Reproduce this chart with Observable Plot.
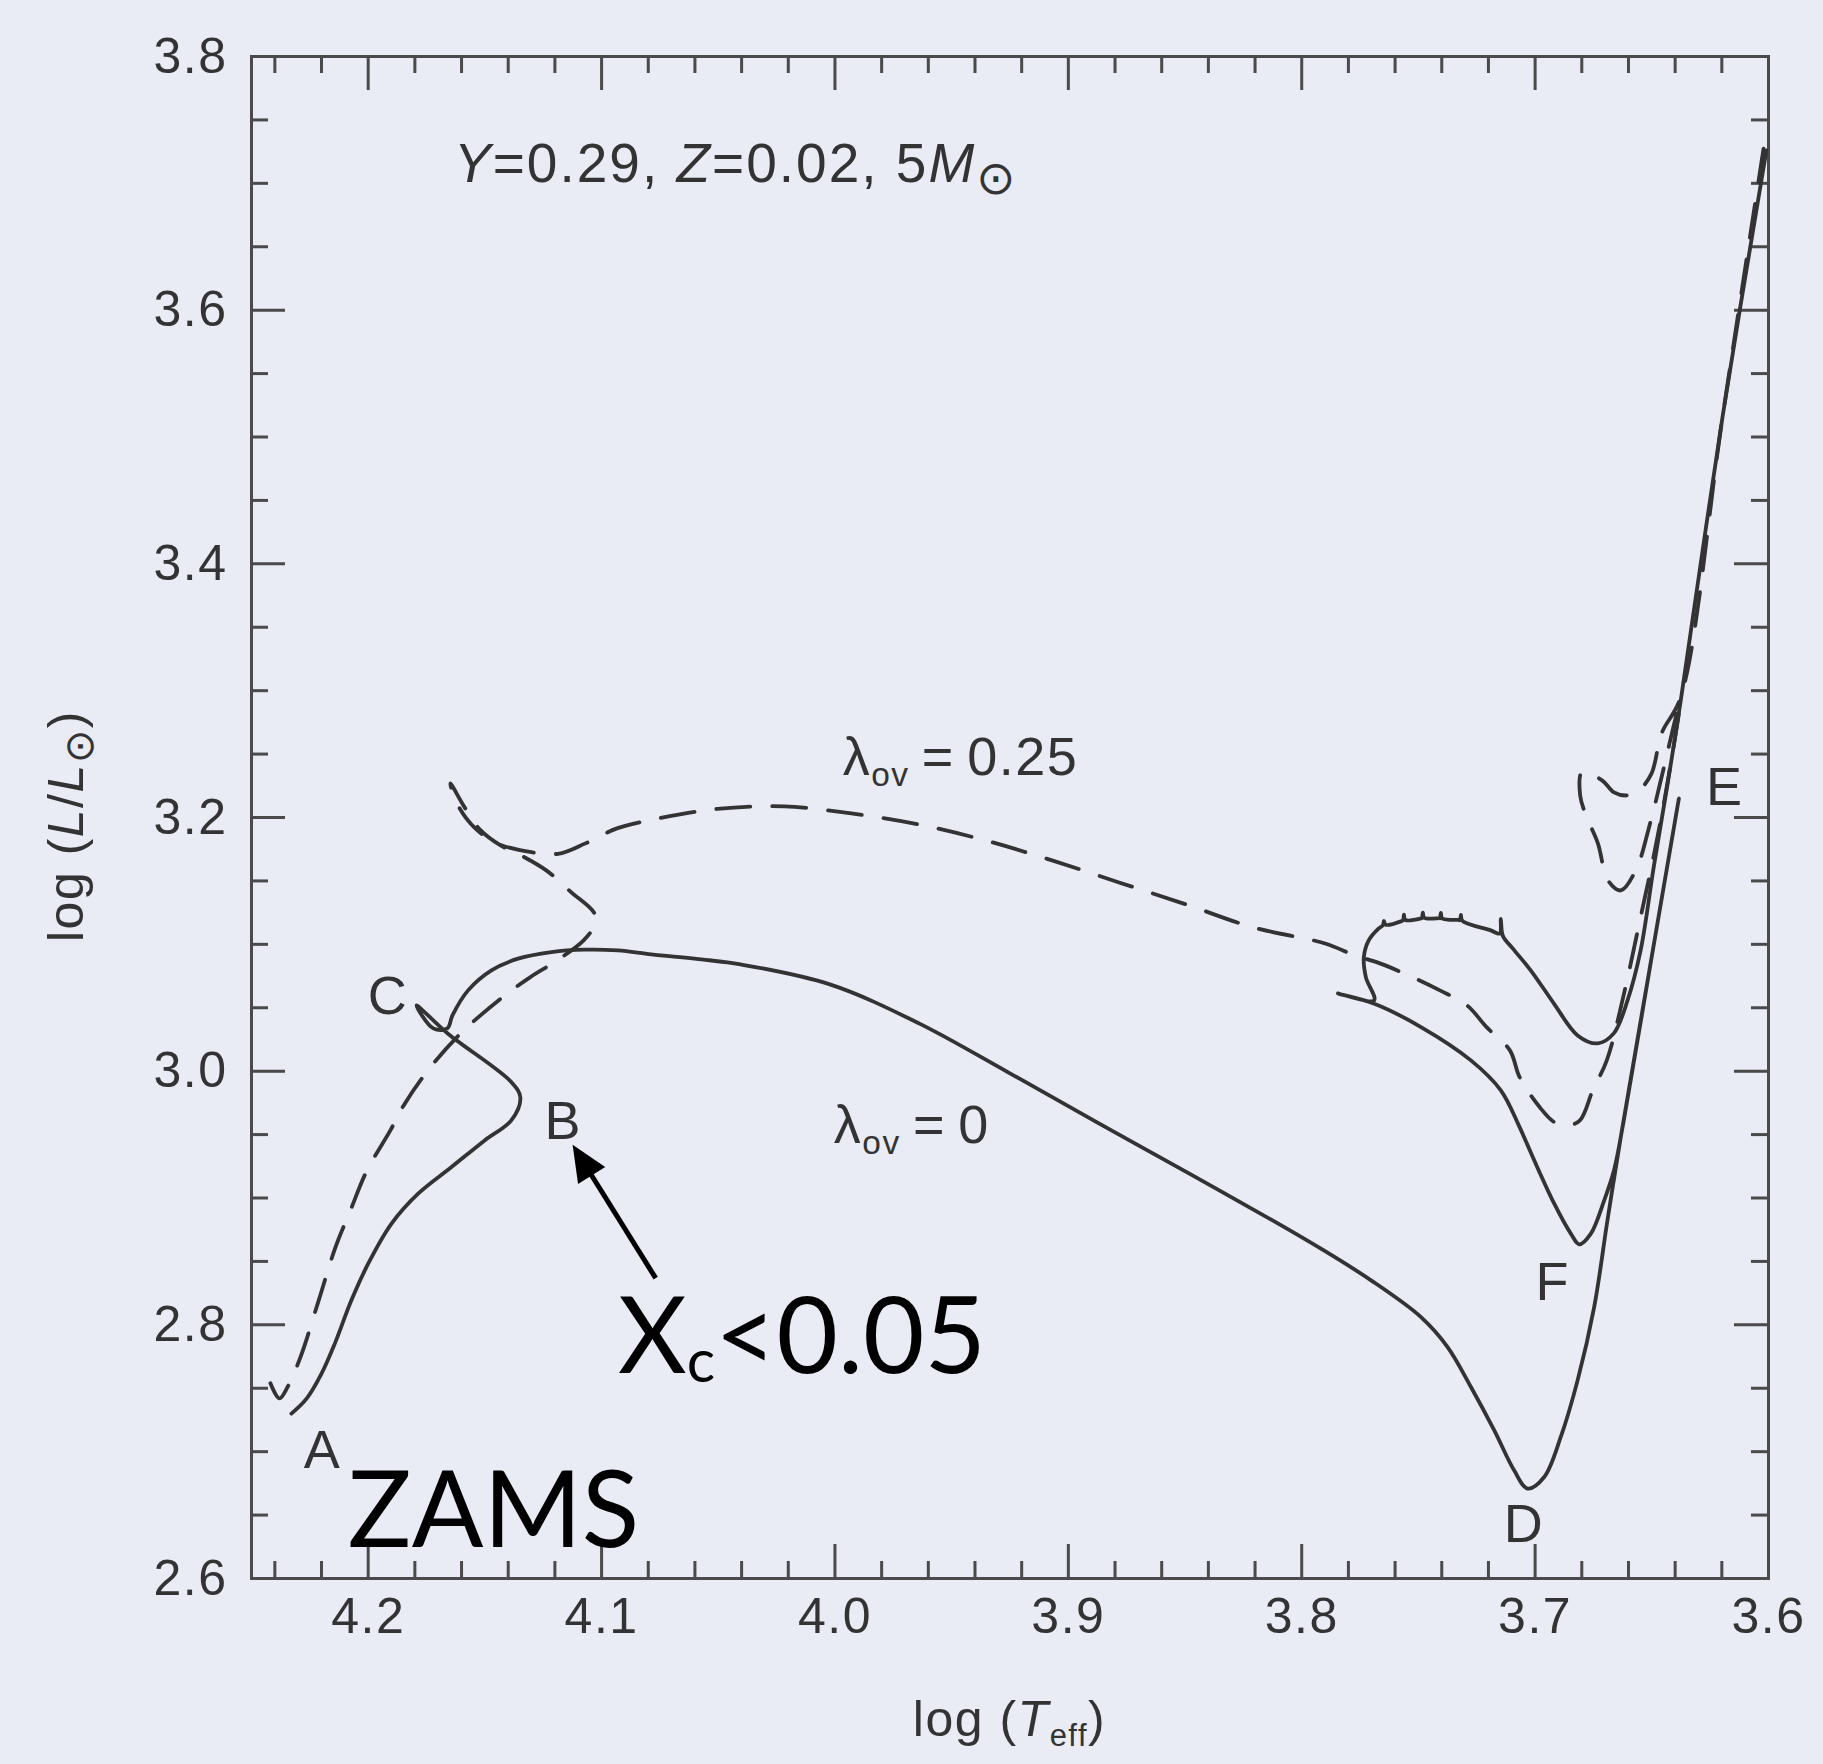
<!DOCTYPE html>
<html>
<head>
<meta charset="utf-8">
<script src="https://cdn.jsdelivr.net/npm/d3@7"></script>
<script src="https://cdn.jsdelivr.net/npm/@observablehq/plot@0.6"></script>
<style>
  html, body { margin: 0; padding: 0; background: #e9ebf5; }
  #chart svg { display: block; }
</style>
</head>
<body>
<div id="chart"></div>
<script>
// Evolutionary tracks of a 5 Msun star, [log Teff, log L/Lsun]
// Track without core overshooting (lambda_ov = 0): A -> B -> C -> D -> E -> F -> blue loop -> AGB
const trackNoOvershoot = [
  [4.2329, 2.7300], [4.2264, 2.7418], [4.2200, 2.7615], [4.2143, 2.7852],
  [4.2072, 2.8193], [4.2000, 2.8482], [4.1900, 2.8798], [4.1786, 2.9034],
  [4.1643, 2.9244], [4.1501, 2.9454], [4.1387, 2.9612], [4.1348, 2.9793],
  [4.1387, 2.9914], [4.1658, 3.0295], [4.1793, 3.0519], [4.1721, 3.0337],
  [4.1661, 3.0337], [4.1639, 3.0440], [4.1572, 3.0637], [4.1472, 3.0795],
  [4.1358, 3.0887], [4.1215, 3.0939], [4.1073, 3.0958], [4.0930, 3.0952],
  [4.0787, 3.0921], [4.0573, 3.0881], [4.0405, 3.0842], [4.0022, 3.0684],
  [3.9640, 3.0377], [3.9258, 2.9991], [3.8877, 2.9596], [3.8491, 2.9202],
  [3.8110, 2.8808], [3.7918, 2.8601], [3.7703, 2.8351], [3.7489, 2.8061],
  [3.7375, 2.7825], [3.7275, 2.7510], [3.7175, 2.7168], [3.7090, 2.6853],
  [3.7032, 2.6709], [3.6961, 2.6800], [3.6890, 2.7116], [3.6818, 2.7562],
  [3.6747, 2.8140], [3.6690, 2.8824], [3.6633, 2.9480], [3.6508, 3.0820],
  [3.6384, 3.2150], [3.6503, 3.0873], [3.6620, 2.9612], [3.6662, 2.9218],
  [3.6704, 2.8981], [3.6761, 2.8719], [3.6811, 2.8635], [3.6847, 2.8719],
  [3.6918, 2.8955], [3.7004, 2.9297], [3.7070, 2.9573], [3.7147, 2.9849],
  [3.7275, 3.0085], [3.7489, 3.0348], [3.7689, 3.0532], [3.7845, 3.0613],
  [3.7690, 3.0558], [3.7725, 3.0740], [3.7734, 3.0897], [3.7713, 3.1031],
  [3.7670, 3.1126], [3.7652, 3.1150], [3.7648, 3.1185], [3.7640, 3.1155],
  [3.7575, 3.1181], [3.7566, 3.1190], [3.7562, 3.1235], [3.7556, 3.1193],
  [3.7489, 3.1205], [3.7485, 3.1208], [3.7481, 3.1250], [3.7475, 3.1209],
  [3.7412, 3.1206], [3.7408, 3.1206], [3.7404, 3.1248], [3.7398, 3.1205],
  [3.7327, 3.1192], [3.7322, 3.1190], [3.7318, 3.1232], [3.7312, 3.1186],
  [3.7190, 3.1110], [3.7152, 3.1085], [3.7147, 3.1200], [3.7138, 3.1065],
  [3.7096, 3.0968], [3.7019, 3.0795], [3.6920, 3.0535], [3.6818, 3.0282],
  [3.6732, 3.0219], [3.6663, 3.0298], [3.6604, 3.0558], [3.6548, 3.0952],
  [3.6492, 3.1607], [3.6432, 3.2269], [3.6376, 3.2923], [3.6196, 3.5170],
  [3.6009, 3.7259]
];

// Track with core overshooting (lambda_ov = 0.25)
const trackOvershoot = [
  [4.2419, 2.7540], [4.2380, 2.7420], [4.2346, 2.7508], [4.2290, 2.7746],
  [4.2212, 2.8193], [4.2140, 2.8613], [4.2076, 2.8903], [4.2005, 2.9218],
  [4.1905, 2.9533], [4.1848, 2.9730], [4.1733, 3.0032], [4.1605, 3.0296],
  [4.1519, 3.0440], [4.1405, 3.0611], [4.1305, 3.0742], [4.1191, 3.0873],
  [4.1077, 3.1031], [4.1031, 3.1150], [4.1030, 3.1242], [4.1131, 3.1412],
  [4.1237, 3.1583], [4.1345, 3.1701], [4.1433, 3.1780], [4.1518, 3.1898],
  [4.1584, 3.2072], [4.1648, 3.2269], [4.1615, 3.2095], [4.1541, 3.1914],
  [4.1447, 3.1796], [4.1345, 3.1741], [4.1187, 3.1714], [4.1069, 3.1796],
  [4.0934, 3.1914], [4.0791, 3.1980], [4.0504, 3.2068], [4.0217, 3.2087],
  [3.9930, 3.2032], [3.9643, 3.1946], [3.9357, 3.1820], [3.9070, 3.1662],
  [3.8783, 3.1488], [3.8496, 3.1315], [3.8209, 3.1134], [3.7900, 3.1007],
  [3.7772, 3.0913], [3.7665, 3.0850], [3.7524, 3.0740], [3.7408, 3.0637],
  [3.7292, 3.0519], [3.7207, 3.0345], [3.7108, 3.0164], [3.7066, 2.9951],
  [3.6980, 2.9715], [3.6916, 2.9596], [3.6860, 2.9573], [3.6808, 2.9612],
  [3.6753, 2.9849], [3.6693, 3.0085], [3.6616, 3.0637], [3.6551, 3.1189],
  [3.6487, 3.1741], [3.6431, 3.2293], [3.6380, 3.2900], [3.6504, 3.1977],
  [3.6569, 3.1583], [3.6633, 3.1425], [3.6688, 3.1504], [3.6731, 3.1796],
  [3.6782, 3.2017], [3.6807, 3.2174], [3.6799, 3.2356], [3.6713, 3.2293],
  [3.6662, 3.2198], [3.6606, 3.2174], [3.6555, 3.2214], [3.6501, 3.2348],
  [3.6458, 3.2663], [3.6376, 3.2950], [3.6196, 3.5170], [3.6008, 3.7432]
];

// Axis ticks
const xMajorTicks = [4.2, 4.1, 4.0, 3.9, 3.8, 3.7, 3.6];
const xMinorTicks = [4.24, 4.22, 4.18, 4.16, 4.14, 4.12, 4.08, 4.06, 4.04, 4.02,
  3.98, 3.96, 3.94, 3.92, 3.88, 3.86, 3.84, 3.82, 3.78, 3.76, 3.74, 3.72,
  3.68, 3.66, 3.64, 3.62];
const yMajorTicks = [2.6, 2.8, 3.0, 3.2, 3.4, 3.6, 3.8];
const yMinorTicks = [2.65, 2.70, 2.75, 2.85, 2.90, 2.95, 3.05, 3.10, 3.15,
  3.25, 3.30, 3.35, 3.45, 3.50, 3.55, 3.65, 3.70, 3.75];

// Evolutionary phase letters
const phaseLetters = ["A", "B", "C", "D", "E", "F"];
const phaseLogT = [4.2196, 4.1164, 4.1915, 3.7048, 3.6187, 3.6924];
const phaseLogL = [2.7010, 2.9604, 3.0590, 2.6427, 3.2237, 2.8335];

// Arrow pointing at the end of core hydrogen burning (tail, tip)
const arrowTail = [4.0766, 2.8364];
const arrowTip = [4.1122, 2.9415];

// Text anchors (data coordinates, baseline / start)
const notes = {
  header: [4.163, 3.701],
  lambda25: [3.9965, 3.2332],
  lambda0: [4.0003, 2.9431],
  core: [4.0928, 2.7618],
  zams: [4.2085, 2.6246]
};

const W = 1823, H = 1764;
const margin = {top: 56, right: 55, bottom: 186, left: 251};
const innerW = W - margin.left - margin.right;
const innerH = H - margin.top - margin.bottom;
const ink = "#333333";
const axisInk = "#4a4a4a";
const sans = "'Liberation Sans', Arial, Helvetica, sans-serif";
const slideFont = "Lato, 'Open Sans', sans-serif";
const majorLen = 34, minorLen = 17;

const tickMarks = (values, len) => [
  Plot.tickX(values, {x: d => d, insetTop: innerH - len, stroke: axisInk, strokeWidth: 3}),
  Plot.tickX(values, {x: d => d, insetBottom: innerH - len, stroke: axisInk, strokeWidth: 3})
];
const tickMarksY = (values, len) => [
  Plot.tickY(values, {y: d => d, insetRight: innerW - len, stroke: axisInk, strokeWidth: 3}),
  Plot.tickY(values, {y: d => d, insetLeft: innerW - len, stroke: axisInk, strokeWidth: 3})
];

const plot = Plot.plot({
  width: W,
  height: H,
  marginTop: margin.top,
  marginRight: margin.right,
  marginBottom: margin.bottom,
  marginLeft: margin.left,
  x: {domain: [4.25, 3.6], axis: null},
  y: {domain: [2.6, 3.8], axis: null},
  style: {background: "transparent", fontFamily: sans, color: ink, overflow: "visible"},
  marks: [
    ...tickMarks(xMajorTicks, majorLen),
    ...tickMarks(xMinorTicks, minorLen),
    ...tickMarksY(yMajorTicks, majorLen),
    ...tickMarksY(yMinorTicks, minorLen),
    Plot.frame({stroke: axisInk, strokeWidth: 3}),
    Plot.line(trackNoOvershoot, {
      x: d => d[0], y: d => d[1], stroke: ink, strokeWidth: 3.8, curve: "catmull-rom"
    }),
    Plot.line(trackOvershoot, {
      x: d => d[0], y: d => d[1], stroke: ink, strokeWidth: 3.8, curve: "catmull-rom",
      strokeDasharray: "34,22"
    }),
    Plot.text(yMajorTicks, {
      y: d => d, frameAnchor: "left", dx: -24, textAnchor: "end",
      text: d => d.toFixed(1), fontSize: 50, fill: ink
    }),
    Plot.text(xMajorTicks, {
      x: d => d, frameAnchor: "bottom", dy: 54,
      text: d => d.toFixed(1), fontSize: 50, fill: ink
    }),
    Plot.text(phaseLetters, {
      x: (d, i) => phaseLogT[i], y: (d, i) => phaseLogL[i],
      text: d => d, fontSize: 54, fill: ink
    })
  ]
});

document.getElementById("chart").appendChild(plot);

// Labels with italics and subscripts, placed through the plot's scales
const sx = plot.scale("x"), sy = plot.scale("y");
const svg = d3.select(plot);
svg.selectAll("text").attr("letter-spacing", 1.5);

function richText({x, y, anchor = "start", size, family = sans, fill = ink, rotate = 0,
                   spacing = 1.5, subScale = 0.62, subShift = 0.2, parts}) {
  const t = svg.append("text")
    .attr("transform", `translate(${x},${y}) rotate(${rotate})`)
    .attr("text-anchor", anchor)
    .attr("font-size", size)
    .attr("font-family", family)
    .attr("fill", fill)
    .attr("letter-spacing", spacing);
  let shift = 0;
  for (const p of parts) {
    const s = t.append("tspan").text(p.t);
    if (p.i) s.attr("font-style", "italic");
    if (p.sub) s.attr("font-size", size * (p.scale ?? subScale));
    if (p.family) s.attr("font-family", p.family);
    const want = p.sub ? size * (p.shift ?? subShift) : 0;
    if (want !== shift) { s.attr("dy", want - shift); shift = want; }
  }
  return t;
}

const at = ([lx, ll]) => [sx.apply(lx), sy.apply(ll)];
const sun = "'DejaVu Sans', sans-serif";

let [hx, hy] = at(notes.header);
richText({x: hx, y: hy, size: 55, spacing: 2, parts: [
  {t: "Y", i: true}, {t: "=0.29, "}, {t: "Z", i: true}, {t: "=0.02, 5"},
  {t: "M", i: true}, {t: "\u2299", sub: true, scale: 0.85, shift: 0.22, family: sun}
]});

[hx, hy] = at(notes.lambda25);
richText({x: hx, y: hy, size: 54, spacing: 1.5, parts: [
  {t: "\u03bb"}, {t: "ov", sub: true}, {t: "\u2009=\u20090.25"}
]});

[hx, hy] = at(notes.lambda0);
richText({x: hx, y: hy, size: 54, spacing: 1.5, parts: [
  {t: "\u03bb"}, {t: "ov", sub: true}, {t: "\u2009=\u20090"}
]});

// Axis titles
richText({x: margin.left + innerW / 2, y: 1736, anchor: "middle", size: 50, parts: [
  {t: "log ("}, {t: "T", i: true}, {t: "eff", sub: true}, {t: ")"}
]});
richText({x: 83, y: margin.top + innerH / 2 + 9, anchor: "middle", size: 50, rotate: -90, parts: [
  {t: "log ("}, {t: "L", i: true}, {t: "/"}, {t: "L", i: true},
  {t: "\u2299", sub: true, scale: 0.8, shift: 0.2, family: sun}, {t: ")"}
]});

// Slide annotations
[hx, hy] = at(notes.core);
richText({x: hx, y: hy, size: 106, family: slideFont, fill: "#000", spacing: 0,
  subScale: 0.56, subShift: 0.09, parts: [
  {t: "X"}, {t: "c", sub: true}, {t: "<0.05"}
]});
[hx, hy] = at(notes.zams);
richText({x: hx, y: hy, size: 106, family: slideFont, fill: "#000", spacing: 0, parts: [
  {t: "ZAMS"}
]});

// Arrow: shaft plus filled head
const [tx0, ty0] = at(arrowTail), [tx1, ty1] = at(arrowTip);
const len = Math.hypot(tx1 - tx0, ty1 - ty0);
const ux = (tx1 - tx0) / len, uy = (ty1 - ty0) / len;
const headLen = 36, headHalf = 16;
const bx = tx1 - ux * headLen, by = ty1 - uy * headLen;
svg.append("line")
  .attr("x1", tx0).attr("y1", ty0).attr("x2", bx + ux * 2).attr("y2", by + uy * 2)
  .attr("stroke", "#000").attr("stroke-width", 5);
svg.append("path")
  .attr("d", `M${tx1},${ty1}L${bx - uy * headHalf},${by + ux * headHalf}L${bx + uy * headHalf},${by - ux * headHalf}Z`)
  .attr("fill", "#000");
</script>
</body>
</html>
